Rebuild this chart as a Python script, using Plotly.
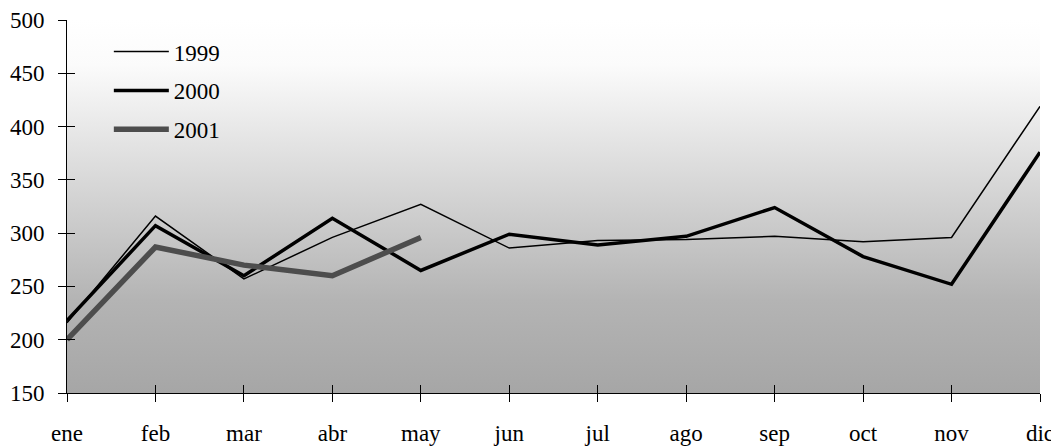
import base64
import plotly.graph_objects as go

months = ["ene", "feb", "mar", "abr", "may", "jun", "jul", "ago", "sep", "oct", "nov", "dic"]
s1999 = [216, 316, 257, 296, 327, 286, 293, 294, 297, 292, 296, 419]
s2000 = [218, 307, 260, 314, 265, 299, 289, 297, 324, 278, 252, 376]
s2001 = [200, 287, 270, 260, 296]
y_ticks = [150, 200, 250, 300, 350, 400, 450, 500]

FONT = "Liberation Serif"
FS = 23

svg = (
    '<svg xmlns="http://www.w3.org/2000/svg" width="100" height="100" preserveAspectRatio="none">'
    '<defs><linearGradient id="g" x1="0" y1="0" x2="0" y2="1">'
    '<stop offset="0" stop-color="#ffffff"/>'
    '<stop offset="0.12" stop-color="#fbfbfb"/>'
    '<stop offset="0.45" stop-color="#d6d6d6"/>'
    '<stop offset="0.75" stop-color="#b4b4b4"/>'
    '<stop offset="1" stop-color="#a6a6a6"/>'
    '</linearGradient></defs>'
    '<rect width="100" height="100" fill="url(#g)"/></svg>'
)
src = "data:image/svg+xml;base64," + base64.b64encode(svg.encode()).decode()

fig = go.Figure()
fig.add_trace(go.Scatter(x=months, y=s1999, name="1999", mode="lines",
                         line=dict(color="#000000", width=1.5), legendgroup="a"))
fig.add_trace(go.Scatter(x=months, y=s2000, name="2000", mode="lines",
                         line=dict(color="#000000", width=3.5), legendgroup="b"))
fig.add_trace(go.Scatter(x=months[:len(s2001)], y=s2001, name="2001", mode="lines",
                         line=dict(color="#4d4d4d", width=5.5), legendgroup="c"))
# empty helper trace so the overlay axes (inner half of the crossing ticks) are drawn
fig.add_trace(go.Scatter(x=[], y=[], mode="none", xaxis="x2", yaxis="y2",
                         showlegend=False, hoverinfo="skip"))

fig.update_layout(
    width=1051, height=439,
    margin=dict(l=59, r=19, t=12, b=54),
    paper_bgcolor="white",
    plot_bgcolor="rgba(0,0,0,0)",
    font=dict(family=FONT, size=FS, color="#000000"),
    images=[dict(source=src, xref="paper", yref="paper", x=0, y=1, sizex=1, sizey=1,
                 sizing="stretch", xanchor="left", yanchor="top", layer="below")],
    showlegend=True,
    legend=dict(x=0.043, y=0.973, xanchor="left", yanchor="top",
                bgcolor="rgba(0,0,0,0)", tracegroupgap=6, itemwidth=55,
                font=dict(family=FONT, size=FS)),
    xaxis=dict(type="category", range=[0, 11], showgrid=False, zeroline=False,
               automargin=False,
               showline=True, linecolor="#000000", linewidth=1,
               ticks="outside", ticklen=8, tickcolor="#000000", tickwidth=1,
               ticklabelstandoff=11, tickfont=dict(family=FONT, size=FS)),
    yaxis=dict(range=[150, 500], tickvals=y_ticks, showgrid=False, zeroline=False,
               automargin=False,
               showline=True, linecolor="#000000", linewidth=1,
               ticks="outside", ticklen=8, tickcolor="#000000", tickwidth=1,
               ticklabelstandoff=9, tickfont=dict(family=FONT, size=FS)),
    xaxis2=dict(overlaying="x", range=[0, 11], tickvals=list(range(len(months))),
                showticklabels=False, ticks="inside", ticklen=8, tickcolor="#000000",
                tickwidth=1, showgrid=False, zeroline=False, showline=False,
                automargin=False, side="bottom", anchor="y2"),
    yaxis2=dict(overlaying="y", range=[150, 500], tickvals=y_ticks,
                showticklabels=False, ticks="inside", ticklen=8, tickcolor="#000000",
                tickwidth=1, showgrid=False, zeroline=False, showline=False,
                automargin=False, side="left", anchor="x2"),
)

fig.write_html("out.html")
